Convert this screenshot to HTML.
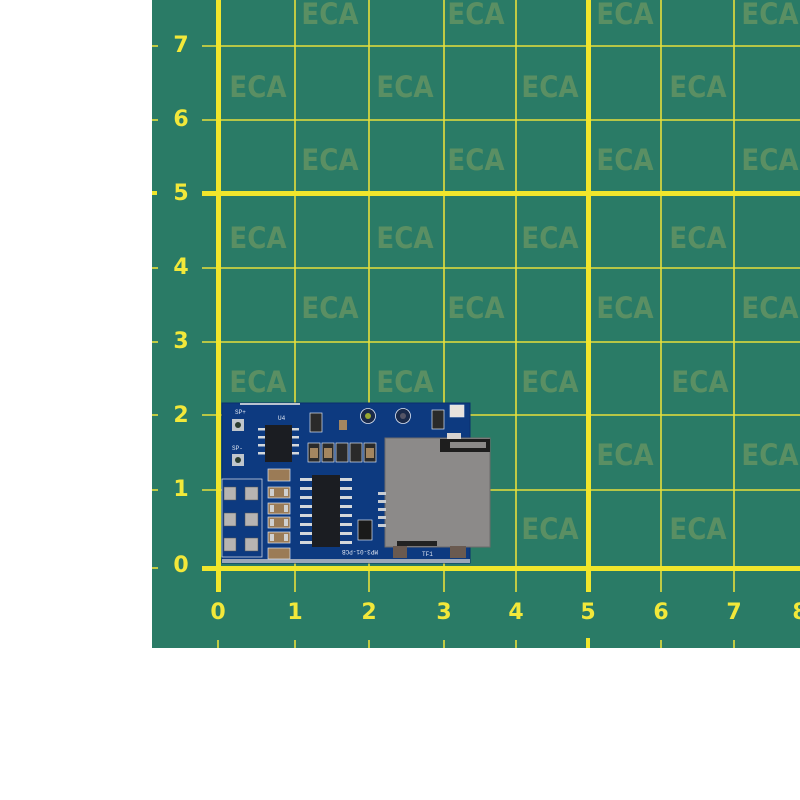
<!DOCTYPE html>
<html><head><meta charset="utf-8"><style>
html,body{margin:0;padding:0;background:#fff;width:800px;height:800px;overflow:hidden}
svg{display:block}
.eca{font-family:"DejaVu Sans Condensed","Liberation Sans Narrow","Liberation Sans",sans-serif;font-weight:bold;font-size:29px;fill:#5a8f63;text-anchor:middle}
.num{font-family:"DejaVu Sans","Liberation Sans",sans-serif;font-size:22px;font-weight:600;fill:#f2e83a;text-anchor:middle}
.silk{font-family:"Liberation Mono",monospace;font-size:6px;fill:#dfe6f2}
</style></head><body>
<svg width="800" height="800" viewBox="0 0 800 800" xmlns="http://www.w3.org/2000/svg">
<rect x="0" y="0" width="800" height="800" fill="#fff"/>
<rect x="152" y="0" width="648" height="648" fill="#2a7b66"/>
<g class="eca">
<text x="330" y="24">ECA</text><text x="476" y="24">ECA</text><text x="625" y="24">ECA</text><text x="770" y="24">ECA</text>
<text x="258" y="97">ECA</text><text x="405" y="97">ECA</text><text x="550" y="97">ECA</text><text x="698" y="97">ECA</text>
<text x="330" y="170">ECA</text><text x="476" y="170">ECA</text><text x="625" y="170">ECA</text><text x="770" y="170">ECA</text>
<text x="258" y="248">ECA</text><text x="405" y="248">ECA</text><text x="550" y="248">ECA</text><text x="698" y="248">ECA</text>
<text x="330" y="318">ECA</text><text x="476" y="318">ECA</text><text x="625" y="318">ECA</text><text x="770" y="318">ECA</text>
<text x="258" y="392">ECA</text><text x="405" y="392">ECA</text><text x="550" y="392">ECA</text><text x="700" y="392">ECA</text>
<text x="625" y="465">ECA</text><text x="770" y="465">ECA</text>
<text x="550" y="539">ECA</text><text x="698" y="539">ECA</text>
</g>
<g stroke="#e6df3c" stroke-width="1.6">
<line x1="295" y1="0" x2="295" y2="592"/><line x1="369" y1="0" x2="369" y2="592"/>
<line x1="444" y1="0" x2="444" y2="592"/><line x1="516" y1="0" x2="516" y2="592"/>
<line x1="661" y1="0" x2="661" y2="592"/><line x1="734" y1="0" x2="734" y2="592"/>
<line x1="202" y1="46" x2="800" y2="46"/><line x1="202" y1="120" x2="800" y2="120"/>
<line x1="202" y1="268" x2="800" y2="268"/><line x1="202" y1="342" x2="800" y2="342"/>
<line x1="202" y1="415" x2="800" y2="415"/><line x1="202" y1="490" x2="800" y2="490"/>
<line x1="218" y1="640" x2="218" y2="648"/><line x1="295" y1="640" x2="295" y2="648"/>
<line x1="369" y1="640" x2="369" y2="648"/><line x1="444" y1="640" x2="444" y2="648"/>
<line x1="516" y1="640" x2="516" y2="648"/><line x1="661" y1="640" x2="661" y2="648"/>
<line x1="734" y1="640" x2="734" y2="648"/>
<line x1="152" y1="46" x2="158" y2="46"/><line x1="152" y1="120" x2="158" y2="120"/>
<line x1="152" y1="268" x2="158" y2="268"/><line x1="152" y1="342" x2="158" y2="342"/>
<line x1="152" y1="415" x2="158" y2="415"/><line x1="152" y1="490" x2="158" y2="490"/>
<line x1="152" y1="568" x2="158" y2="568"/>
</g>
<g fill="#f0e62c">
<rect x="216" y="0" width="5" height="592"/>
<rect x="586" y="0" width="5" height="592"/>
<rect x="202" y="191" width="598" height="5"/>
<rect x="202" y="566" width="598" height="5"/>
<rect x="586" y="638" width="4" height="10"/>
<rect x="152" y="191" width="5" height="4"/>
</g>
<g class="num">
<text x="181" y="52">7</text><text x="181" y="126">6</text><text x="181" y="200">5</text>
<text x="181" y="274">4</text><text x="181" y="348">3</text><text x="181" y="422">2</text>
<text x="181" y="496">1</text><text x="181" y="572">0</text>
<text x="218" y="619">0</text><text x="295" y="619">1</text><text x="369" y="619">2</text>
<text x="444" y="619">3</text><text x="516" y="619">4</text><text x="588" y="619">5</text>
<text x="661" y="619">6</text><text x="734" y="619">7</text><text x="800" y="619">8</text>
</g>
<rect x="222" y="403" width="248" height="160" fill="#0d3a80"/>
<rect x="222" y="403" width="248" height="160" fill="none" stroke="#0a2f6e" stroke-width="1"/>
<rect x="222" y="559" width="248" height="4" fill="#9aa6b8"/>
<rect x="240" y="403" width="60" height="2" fill="#b9c2cf"/>
<rect x="232" y="419" width="12" height="12" fill="#c0c6cc"/><circle cx="238" cy="425" r="3" fill="#2b3d30"/>
<rect x="232" y="454" width="12" height="12" fill="#c0c6cc"/><circle cx="238" cy="460" r="3" fill="#2b3d30"/>
<text class="silk" x="235" y="414">SP+</text><text class="silk" x="232" y="450">SP-</text>
<g fill="#d4d8dc"><rect x="258" y="428" width="8" height="2.5"/><rect x="258" y="436" width="8" height="2.5"/><rect x="258" y="444" width="8" height="2.5"/><rect x="258" y="452" width="8" height="2.5"/>
<rect x="291" y="428" width="8" height="2.5"/><rect x="291" y="436" width="8" height="2.5"/><rect x="291" y="444" width="8" height="2.5"/><rect x="291" y="452" width="8" height="2.5"/></g>
<rect x="265" y="425" width="27" height="37" fill="#1b1d22"/>
<text class="silk" x="278" y="420">U4</text>
<g fill="#b7b4b2" stroke="#555" stroke-width="0.5">
<rect x="224" y="487" width="12" height="13"/><rect x="245" y="487" width="13" height="13"/>
<rect x="224" y="513" width="12" height="13"/><rect x="245" y="513" width="13" height="13"/>
<rect x="224" y="538" width="12" height="13"/><rect x="245" y="538" width="13" height="13"/>
</g>
<g fill="none" stroke="#c8d0e0" stroke-width="0.8"><rect x="222" y="479" width="40" height="78"/></g>
<g stroke="#dfe6f2" stroke-width="0.7" fill="#9b7b56">
<rect x="268" y="469" width="22" height="12"/><rect x="268" y="487" width="22" height="11"/>
<rect x="268" y="503" width="22" height="11"/><rect x="268" y="517" width="22" height="11"/>
<rect x="268" y="532" width="22" height="11"/><rect x="268" y="548" width="22" height="11"/>
</g>
<g fill="#d0d0d0"><rect x="270" y="489" width="4" height="7"/><rect x="284" y="489" width="4" height="7"/>
<rect x="270" y="505" width="4" height="7"/><rect x="284" y="505" width="4" height="7"/>
<rect x="270" y="519" width="4" height="7"/><rect x="284" y="519" width="4" height="7"/>
<rect x="270" y="534" width="4" height="7"/><rect x="284" y="534" width="4" height="7"/></g>
<g fill="#d4d8dc">
<rect x="300" y="478" width="12" height="3"/><rect x="300" y="487" width="12" height="3"/><rect x="300" y="496" width="12" height="3"/><rect x="300" y="505" width="12" height="3"/><rect x="300" y="514" width="12" height="3"/><rect x="300" y="523" width="12" height="3"/><rect x="300" y="532" width="12" height="3"/><rect x="300" y="541" width="12" height="3"/>
<rect x="340" y="478" width="12" height="3"/><rect x="340" y="487" width="12" height="3"/><rect x="340" y="496" width="12" height="3"/><rect x="340" y="505" width="12" height="3"/><rect x="340" y="514" width="12" height="3"/><rect x="340" y="523" width="12" height="3"/><rect x="340" y="532" width="12" height="3"/><rect x="340" y="541" width="12" height="3"/>
</g>
<rect x="312" y="475" width="28" height="72" fill="#1b1d22"/>
<text class="silk" x="312" y="558" font-size="9" transform="rotate(180 345 554)">MP3-01-PCB</text>
<g stroke="#dfe6f2" stroke-width="0.7" fill="#2a2a2a">
<rect x="308" y="443" width="12" height="19"/><rect x="322" y="443" width="12" height="19"/>
<rect x="336" y="443" width="12" height="19"/><rect x="350" y="443" width="12" height="19"/>
<rect x="364" y="443" width="12" height="19"/>
<rect x="310" y="413" width="12" height="19"/><rect x="432" y="410" width="12" height="19"/>
</g>
<g fill="#a48660"><rect x="310" y="448" width="8" height="10"/><rect x="324" y="448" width="8" height="10"/><rect x="366" y="448" width="8" height="10"/><rect x="339" y="420" width="8" height="10"/></g>
<circle cx="368" cy="416" r="7.5" fill="#1a2a4a" stroke="#dfe6f2" stroke-width="0.8"/><circle cx="368" cy="416" r="3" fill="#9aa830"/>
<circle cx="403" cy="416" r="7.5" fill="#1a2a4a" stroke="#dfe6f2" stroke-width="0.8"/><circle cx="403" cy="416" r="3" fill="#556"/>
<rect x="450" y="405" width="14" height="12" fill="#e8e2dc" stroke="#dfe6f2" stroke-width="0.6"/>
<rect x="358" y="520" width="14" height="20" fill="#1a1a1a" stroke="#dfe6f2" stroke-width="0.7"/>
<rect x="385" y="438" width="105" height="109" fill="#8c8a89" stroke="#6d6b6a" stroke-width="1"/>
<rect x="440" y="439" width="50" height="13" fill="#1e1e1e"/>
<rect x="450" y="442" width="36" height="6" fill="#8c8a89"/>
<rect x="397" y="541" width="40" height="5" fill="#222"/>
<rect x="447" y="433" width="14" height="6" fill="#d8d4d0"/>
<rect x="450" y="546" width="16" height="12" fill="#6a5a50"/>
<rect x="393" y="546" width="14" height="12" fill="#6a5a50"/>
<g fill="#c8ccd2"><rect x="378" y="492" width="8" height="3"/><rect x="378" y="500" width="8" height="3"/><rect x="378" y="508" width="8" height="3"/><rect x="378" y="516" width="8" height="3"/><rect x="378" y="524" width="8" height="3"/></g>
<text class="silk" x="422" y="556">TF1</text>
</svg>
</body></html>
